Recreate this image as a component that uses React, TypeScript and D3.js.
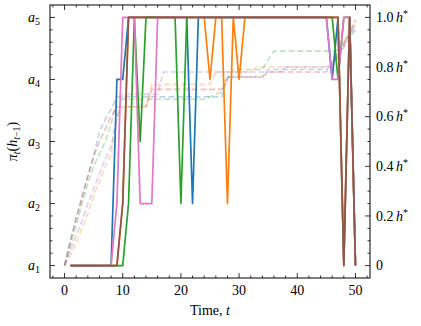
import React from "react";
import * as d3 from "d3";

const W = 421;
const H = 326;

// time steps
const tAction = d3.range(1, 51);
const tHistory = d3.range(0, 51);

// chosen action per step (1 = a1 ... 5 = a5)
const blueAct = [
  1, 1, 1, 1, 1, 1, 1, 1, 4, 4,
  5, 5, 5, 5, 5, 5, 5, 5, 5, 5,
  5, 2, 5, 5, 5, 5, 5, 5, 5, 5,
  5, 5, 5, 5, 5, 5, 5, 5, 5, 5,
  5, 5, 5, 5, 5, 4, 5, 1, 5, 1,
];
const orangeAct = [
  1, 1, 1, 1, 1, 1, 1, 1, 1, 2,
  5, 5, 5, 5, 5, 5, 5, 5, 5, 5,
  5, 5, 5, 5, 4, 5, 5, 2, 5, 4,
  5, 5, 5, 5, 5, 5, 5, 5, 5, 5,
  5, 5, 5, 5, 5, 5, 5, 1, 5, 1,
];
const greenAct = [
  1, 1, 1, 1, 1, 1, 1, 1, 1, 1,
  2, 5, 3, 5, 5, 5, 5, 5, 5, 2,
  5, 5, 5, 5, 5, 5, 5, 5, 5, 5,
  5, 5, 5, 5, 5, 5, 5, 5, 5, 5,
  5, 5, 5, 5, 5, 5, 4, 5, 5, 1,
];
const pinkAct = [
  1, 1, 1, 1, 1, 1, 1, 1, 2, 5,
  5, 5, 2, 2, 2, 5, 5, 5, 5, 5,
  5, 5, 5, 5, 5, 5, 5, 5, 5, 5,
  5, 5, 5, 5, 5, 5, 5, 5, 5, 5,
  5, 5, 5, 5, 5, 4, 4, 5, 5, 1,
];
const brownAct = [
  1, 1, 1, 1, 1, 1, 1, 1, 1, 2,
  5, 5, 5, 5, 5, 5, 5, 5, 5, 5,
  5, 5, 5, 5, 5, 5, 5, 5, 5, 5,
  5, 5, 5, 5, 5, 5, 5, 5, 5, 5,
  5, 5, 5, 5, 5, 5, 5, 1, 5, 1,
];

// history value h_t as fraction of h*
const blueHist = [
  0, 0.1, 0.19, 0.28, 0.36, 0.44, 0.54, 0.59, 0.63, 0.68,
  0.68, 0.68, 0.68, 0.68, 0.68, 0.68, 0.68, 0.68, 0.68, 0.68,
  0.68, 0.68, 0.68, 0.68, 0.68, 0.68, 0.68, 0.68, 0.76, 0.76,
  0.76, 0.76, 0.76, 0.76, 0.76, 0.79, 0.79, 0.79, 0.79, 0.79,
  0.79, 0.79, 0.79, 0.79, 0.79, 0.79, 0.81, 0.85, 0.88, 0.92,
  0.95,
];
const orangeHist = [
  0, 0.04, 0.09, 0.15, 0.21, 0.28, 0.34, 0.4, 0.45, 0.6,
  0.64, 0.64, 0.64, 0.64, 0.64, 0.73, 0.73, 0.73, 0.73, 0.73,
  0.73, 0.73, 0.73, 0.73, 0.73, 0.73, 0.78, 0.78, 0.78, 0.78,
  0.78, 0.78, 0.78, 0.8, 0.8, 0.8, 0.8, 0.8, 0.8, 0.8,
  0.8, 0.8, 0.8, 0.8, 0.8, 0.8, 0.82, 0.86, 0.9, 0.94,
  0.97,
];
const greenHist = [
  0, 0.08, 0.16, 0.25, 0.33, 0.4, 0.45, 0.5, 0.57, 0.66,
  0.67, 0.67, 0.67, 0.67, 0.67, 0.67, 0.67, 0.67, 0.67, 0.67,
  0.67, 0.67, 0.67, 0.67, 0.67, 0.68, 0.69, 0.7, 0.75, 0.79,
  0.79, 0.79, 0.79, 0.79, 0.79, 0.83, 0.864, 0.864, 0.864, 0.864,
  0.864, 0.864, 0.864, 0.864, 0.864, 0.864, 0.864, 0.87, 0.9, 0.93,
  0.96,
];
const redHist = [
  0, 0.1, 0.19, 0.27, 0.36, 0.44, 0.5, 0.55, 0.6, 0.64,
  0.64, 0.64, 0.64, 0.64, 0.64, 0.71, 0.71, 0.71, 0.71, 0.71,
  0.71, 0.71, 0.71, 0.71, 0.71, 0.71, 0.71, 0.71, 0.76, 0.76,
  0.76, 0.76, 0.76, 0.76, 0.76, 0.78, 0.78, 0.78, 0.78, 0.78,
  0.78, 0.78, 0.78, 0.78, 0.78, 0.78, 0.8, 0.84, 0.89, 0.94,
  0.99,
];
const purpleHist = [
  0, 0.06, 0.12, 0.18, 0.25, 0.31, 0.37, 0.43, 0.48, 0.6,
  0.69, 0.69, 0.69, 0.69, 0.69, 0.69, 0.69, 0.78, 0.78, 0.78,
  0.78, 0.78, 0.78, 0.78, 0.78, 0.78, 0.78, 0.78, 0.78, 0.78,
  0.78, 0.78, 0.78, 0.78, 0.78, 0.78, 0.78, 0.78, 0.8, 0.8,
  0.8, 0.8, 0.8, 0.8, 0.8, 0.8, 0.81, 0.85, 0.89, 0.93,
  0.98,
];

const xTicks = [0, 10, 20, 30, 40, 50];
const actionTicks = [1, 2, 3, 4, 5];
const histTicks = [0, 0.2, 0.4, 0.6, 0.8, 1.0];
const histTickLabels = ["0", "0.2", "0.4", "0.6", "0.8", "1.0"];

const histRuns = [
  { color: "#1f77b4", values: blueHist },
  { color: "#ff7f0e", values: orangeHist },
  { color: "#2ca02c", values: greenHist },
  { color: "#d62728", values: redHist },
  { color: "#9467bd", values: purpleHist },
];
const actRuns = [
  { color: "#1f77b4", values: blueAct },
  { color: "#ff7f0e", values: orangeAct },
  { color: "#2ca02c", values: greenAct },
  { color: "#e377c2", values: pinkAct },
  { color: "#8c564b", values: brownAct },
];

const FONT = "'Liberation Serif', 'DejaVu Serif', serif";

export default function App() {
  const left = 50, right = 370, top = 5, bottom = 278;

  const x = d3.scaleLinear().domain([-2.5, 52.5]).range([left, right]);
  const yA = d3.scaleLinear().domain([0.8, 5.2]).range([bottom, top]);
  const yH = d3.scaleLinear().domain([-0.05, 1.05]).range([bottom, top]);

  const actLine = d3
    .line<number>()
    .x((_, i) => x(tAction[i]))
    .y((d) => yA(d));
  const histLine = d3
    .line<number>()
    .x((_, i) => x(tHistory[i]))
    .y((d) => yH(d));

  const xMinor = d3.range(-2, 53, 2).filter((v) => v % 10 !== 0);
  const aMinor = d3.range(1, 5.2, 0.2).filter((v) => Math.abs(v - Math.round(v)) > 0.01);
  const hMinor = d3.range(0, 1.04, 0.05).filter((v) => Math.abs(v * 5 - Math.round(v * 5)) > 0.01);

  const major = 5;
  const minor = 2.5;
  const tickStroke = { stroke: "#000", strokeWidth: 0.8 };

  return (
    <div style={{ position: "absolute", left: 0, top: 0 }}>
      <svg width={W} height={H} style={{ display: "block", background: "#fff" }}>
        {/* history (dashed, right axis) */}
        {histRuns.map((r, i) => (
          <path
            key={"h" + i}
            d={histLine(r.values) || ""}
            fill="none"
            stroke={r.color}
            strokeOpacity={0.3}
            strokeWidth={1.6}
            strokeDasharray="6,2.8"
          />
        ))}
        {/* actions (solid, left axis) */}
        {actRuns.map((r, i) => (
          <path
            key={"a" + i}
            d={actLine(r.values) || ""}
            fill="none"
            stroke={r.color}
            strokeWidth={1.7}
            strokeLinejoin="round"
          />
        ))}

        {/* frame */}
        <rect x={left} y={top} width={right - left} height={bottom - top} fill="none" stroke="#000" strokeWidth={1} />

        {/* x ticks bottom + top */}
        {xTicks.map((v) => (
          <g key={"xt" + v}>
            <line x1={x(v)} x2={x(v)} y1={bottom} y2={bottom - major} {...tickStroke} />
            <line x1={x(v)} x2={x(v)} y1={top} y2={top + major} {...tickStroke} />
            <text x={x(v)} y={295} textAnchor="middle" fontFamily={FONT} fontSize={14}>
              {v}
            </text>
          </g>
        ))}
        {xMinor.map((v) => (
          <g key={"xm" + v}>
            <line x1={x(v)} x2={x(v)} y1={bottom} y2={bottom - minor} {...tickStroke} />
            <line x1={x(v)} x2={x(v)} y1={top} y2={top + minor} {...tickStroke} />
          </g>
        ))}

        {/* left axis: actions */}
        {actionTicks.map((v) => (
          <g key={"at" + v}>
            <line x1={left} x2={left + major} y1={yA(v)} y2={yA(v)} {...tickStroke} />
            <text x={40} y={yA(v) + 4.5} textAnchor="end" fontFamily={FONT} fontSize={14}>
              <tspan fontStyle="italic">a</tspan>
              <tspan fontSize={10} dy={3}>{v}</tspan>
            </text>
          </g>
        ))}
        {aMinor.map((v, i) => (
          <line key={"am" + i} x1={left} x2={left + minor} y1={yA(v)} y2={yA(v)} {...tickStroke} />
        ))}

        {/* right axis: history */}
        {histTicks.map((v, i) => (
          <g key={"ht" + i}>
            <line x1={right} x2={right - major} y1={yH(v)} y2={yH(v)} {...tickStroke} />
            <text x={376} y={yH(v) + 4.8} fontFamily={FONT} fontSize={14}>
              {histTickLabels[i]}
              {v !== 0 && (
                <>
                  <tspan fontStyle="italic" dx={2.5}>h</tspan>
                  <tspan fontSize={10} dy={-5}>*</tspan>
                </>
              )}
            </text>
          </g>
        ))}
        {hMinor.map((v, i) => (
          <line key={"hm" + i} x1={right} x2={right - minor} y1={yH(v)} y2={yH(v)} {...tickStroke} />
        ))}

        {/* axis labels */}
        <text x={(left + right) / 2} y={315} textAnchor="middle" fontFamily={FONT} fontSize={14}>
          Time, <tspan fontStyle="italic">t</tspan>
        </text>
        <text
          transform={`translate(17,${(top + bottom) / 2}) rotate(-90)`}
          textAnchor="middle"
          fontFamily={FONT}
          fontSize={14}
        >
          <tspan fontStyle="italic">π</tspan>
          <tspan fontStyle="italic" fontSize={10} dy={3}>t</tspan>
          <tspan dy={-3}>(</tspan>
          <tspan fontStyle="italic">h</tspan>
          <tspan fontStyle="italic" fontSize={10} dy={3}>t</tspan>
          <tspan fontSize={10}>−1</tspan>
          <tspan dy={-3}>)</tspan>
        </text>
      </svg>
    </div>
  );
}
